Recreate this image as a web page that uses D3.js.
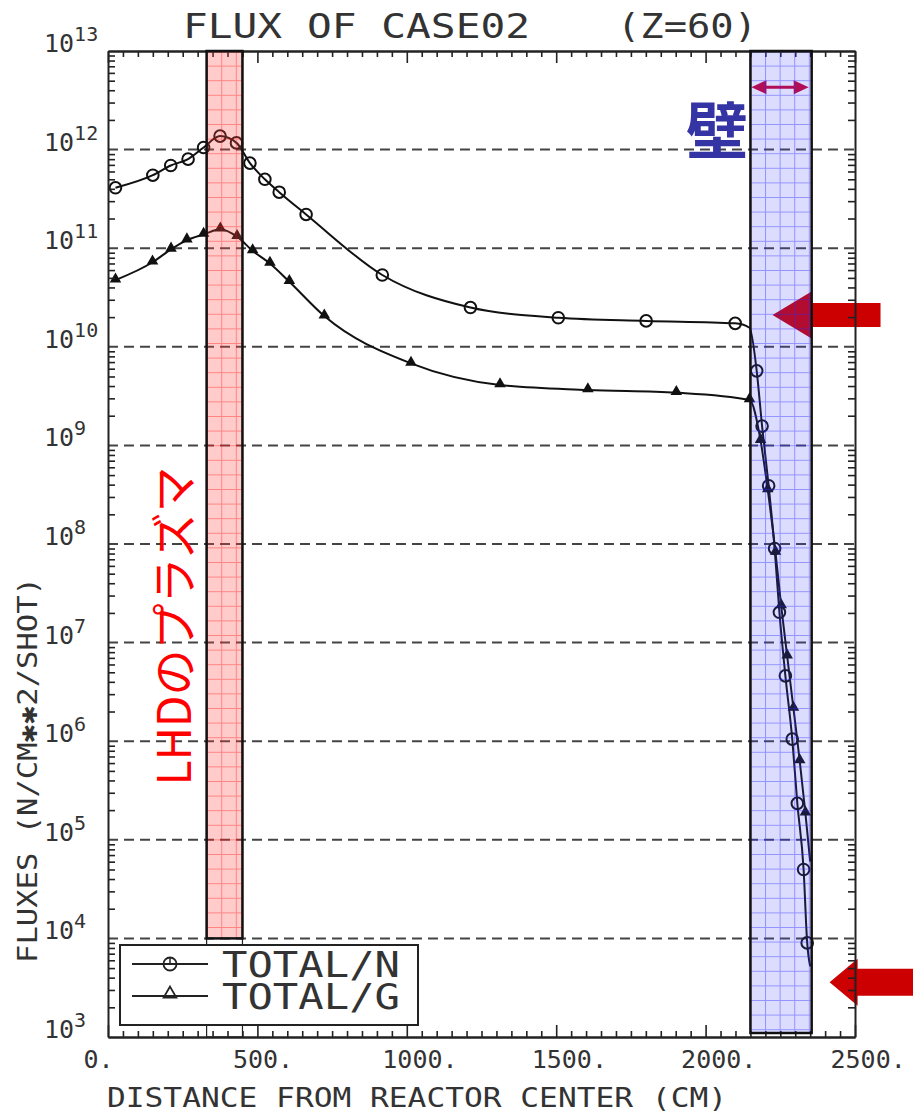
<!DOCTYPE html>
<html>
<head>
<meta charset="utf-8">
<script src="https://cdn.jsdelivr.net/npm/d3@7"></script>
<style>
  body { margin: 0; background: #fff; }
  svg { display: block; }
  text { font-family: 'DejaVu Sans Mono', monospace; fill: #333; }
</style>
</head>
<body>
<svg id="chart" width="913" height="1113"></svg>
<script>
// TOTAL/N (circles)
const distN = [25, 150, 210, 268, 320, 375, 430, 475, 525, 573, 663, 918, 1213, 1507, 1801, 2099, 2147, 2171, 2189, 2211, 2231, 2247, 2267, 2290, 2307, 2328, 2340, 2350]
const fluxN = [4.1e11, 5.5e11, 6.9e11, 8.0e11, 1.05e12, 1.37e12, 1.17e12, 7.3e11, 5.0e11, 3.7e11, 2.2e11, 5.35e10, 2.5e10, 1.97e10, 1.83e10, 1.73e10, 1.56e10, 5.7e9, 1.57e9, 3.9e8, 9.0e7, 2.03e7, 4.6e6, 1.05e6, 2.34e5, 5.0e4, 9.0e3, 5.2e3]
const plainN = [2147, 2350]

// TOTAL/G (triangles)
const distG = [25, 149, 211, 264, 320, 376, 432, 484, 542, 607, 724, 1014, 1312, 1606, 1902, 2147, 2184, 2208, 2234, 2253, 2273, 2294, 2315, 2334, 2350]
const fluxG = [4.75e10, 7.2e10, 9.75e10, 1.21e11, 1.38e11, 1.56e11, 1.31e11, 9.4e10, 7.0e10, 4.57e10, 2.05e10, 6.8e9, 4.1e9, 3.65e9, 3.43e9, 2.9e9, 1.12e9, 3.53e8, 8.2e7, 2.35e7, 7.3e6, 2.15e6, 6.3e5, 1.86e5, 6e4]
const plainG = [2350]

const xTicks = [0, 500, 1000, 1500, 2000, 2500]
const decades = [3, 4, 5, 6, 7, 8, 9, 10, 11, 12, 13]

// shaded regions and annotations
const plasmaSpan = [330, 450]
const plasmaFloor = 1e4
const wallSpan = [2150, 2355]
const spanArrowFlux = 4.3e12
const arrowDist = [2224, 2415]
const arrowFlux = [2.1e10, 3.6e3]

const legendLabels = ['TOTAL/N', 'TOTAL/G']

const width = 913
const height = 1113
const margin = { top: 51, right: 58, bottom: 76, left: 108 }

const svg = d3.select('#chart')
const defs = svg.append('defs')

const x = d3.scaleLinear().domain([0, 2500]).range([margin.left, width - margin.right])
const y = d3.scaleLog().domain([1e3, 1e13]).range([height - margin.bottom, margin.top])

const x0 = x.range()[0]
const x1 = x.range()[1]

// dashed decade lines
svg.append('g')
  .selectAll('line')
  .data(decades.slice(1, -1))
  .enter()
  .append('line')
  .attr('x1', x0)
  .attr('x2', x1)
  .attr('y1', d => y(Math.pow(10, d)))
  .attr('y2', d => y(Math.pow(10, d)))
  .attr('stroke', '#444')
  .attr('stroke-width', 2)
  .attr('stroke-dasharray', '10,6')

// big red arrows (under the wall overlay)
const arrowShape = [{ head: 39, shaft: 12, tail: 108 }, { head: 28, shaft: 13.5, tail: 90 }]
arrowDist.forEach((d, i) => {
  const tx = x(d)
  const ty = y(arrowFlux[i])
  const s = arrowShape[i]
  const hb = tx + s.head
  const pts = [
    [tx, ty], [hb, ty - 23.5], [hb, ty - s.shaft], [tx + s.tail, ty - s.shaft],
    [tx + s.tail, ty + s.shaft], [hb, ty + s.shaft], [hb, ty + 23.5]
  ]
  svg.append('polygon')
    .attr('points', pts.map(p => p.join(',')).join(' '))
    .attr('fill', '#cc0000')
})

// double arrow across the wall
const sy = y(spanArrowFlux)
const sa = x(wallSpan[0]) + 1
const sb = x(wallSpan[1]) - 3
svg.append('line')
  .attr('x1', sa + 10).attr('x2', sb - 10)
  .attr('y1', sy).attr('y2', sy)
  .attr('stroke', '#cc0030').attr('stroke-width', 3)
svg.append('polygon')
  .attr('points', `${sa},${sy} ${sa + 15},${sy - 7} ${sa + 15},${sy + 7}`)
  .attr('fill', '#cc0030')
svg.append('polygon')
  .attr('points', `${sb},${sy} ${sb - 15},${sy - 7} ${sb - 15},${sy + 7}`)
  .attr('fill', '#cc0030')

// series
const line = d3.line()
  .x(d => x(d[0]))
  .y(d => y(d[1]))
  .curve(d3.curveMonotoneX)

const seriesN = distN.map((d, i) => [d, fluxN[i]])
const seriesG = distG.map((d, i) => [d, fluxG[i]])

svg.append('path')
  .datum(seriesN)
  .attr('d', line)
  .attr('fill', 'none')
  .attr('stroke', '#111')
  .attr('stroke-width', 2)

svg.append('path')
  .datum(seriesG)
  .attr('d', line)
  .attr('fill', 'none')
  .attr('stroke', '#111')
  .attr('stroke-width', 2)

svg.append('g')
  .selectAll('circle')
  .data(seriesN.filter(d => !plainN.includes(d[0])))
  .enter()
  .append('circle')
  .attr('cx', d => x(d[0]))
  .attr('cy', d => y(d[1]))
  .attr('r', 5.8)
  .attr('fill', 'none')
  .attr('stroke', '#111')
  .attr('stroke-width', 2)

const tri = d3.symbol().type(d3.symbolTriangle).size(58)
svg.append('g')
  .selectAll('path')
  .data(seriesG.filter(d => !plainG.includes(d[0])))
  .enter()
  .append('path')
  .attr('d', tri)
  .attr('transform', d => `translate(${x(d[0])},${y(d[1]) - 1})`)
  .attr('fill', '#111')

// axes
const minorX = d3.range(0, 2501, 50).filter(d => d % 500 !== 0)
const minorY = []
decades.slice(0, -1).forEach(k => {
  for (let m = 2; m <= 9; m++) minorY.push(m * Math.pow(10, k))
})

function styleAxis(g) {
  g.selectAll('path.domain').attr('stroke', '#222').attr('stroke-width', 2)
  g.selectAll('.tick line').attr('stroke', '#222').attr('stroke-width', 1.6)
}

const yBottom = y.range()[0]
const yTop = y.range()[1]

svg.append('g').attr('transform', `translate(0,${yBottom})`)
  .call(d3.axisBottom(x).tickValues(minorX).tickSize(-6).tickSizeOuter(0).tickFormat(''))
  .call(styleAxis)
svg.append('g').attr('transform', `translate(0,${yTop})`)
  .call(d3.axisTop(x).tickValues(minorX).tickSize(-6).tickSizeOuter(0).tickFormat(''))
  .call(styleAxis)
svg.append('g').attr('transform', `translate(0,${yTop})`)
  .call(d3.axisTop(x).tickValues(xTicks).tickSize(-12).tickSizeOuter(0).tickFormat(''))
  .call(styleAxis)
svg.append('g').attr('transform', `translate(${x0},0)`)
  .call(d3.axisLeft(y).tickValues(minorY).tickSize(-7).tickSizeOuter(0).tickFormat(''))
  .call(styleAxis)
svg.append('g').attr('transform', `translate(${x1},0)`)
  .call(d3.axisRight(y).tickValues(minorY).tickSize(-7).tickSizeOuter(0).tickFormat(''))
  .call(styleAxis)

const xAxis = svg.append('g').attr('transform', `translate(0,${yBottom})`)
  .call(d3.axisBottom(x).tickValues(xTicks).tickSize(-12).tickSizeOuter(0).tickPadding(13).tickFormat(d => d + '.'))
  .call(styleAxis)
xAxis.selectAll('text')
  .attr('text-anchor', 'start')
  .attr('dx', -25)
  .style('font-family', "'DejaVu Sans Mono', monospace")
  .style('font-size', '25px')
  .attr('fill', '#333')

// shaded overlays
function gridPattern(id, color, ox, oy) {
  const p = defs.append('pattern')
    .attr('id', id)
    .attr('patternUnits', 'userSpaceOnUse')
    .attr('x', ox).attr('y', oy)
    .attr('width', 14.6).attr('height', 14.6)
  p.append('path')
    .attr('d', 'M0,0.5H14.6M0.5,0V14.6')
    .attr('stroke', color)
    .attr('stroke-width', 1)
}

const px0 = x(plasmaSpan[0])
const px1 = x(plasmaSpan[1])
const pyB = y(plasmaFloor)
gridPattern('gridPink', 'rgba(255,0,0,0.35)', px0, yTop)
svg.append('rect')
  .attr('x', px0).attr('y', yTop).attr('width', px1 - px0).attr('height', pyB - yTop)
  .attr('fill', 'rgba(255,70,70,0.28)')
svg.append('rect')
  .attr('x', px0).attr('y', yTop).attr('width', px1 - px0).attr('height', pyB - yTop)
  .attr('fill', 'url(#gridPink)')
// thin outline continues down behind the legend
svg.append('rect')
  .attr('x', px0).attr('y', yTop).attr('width', px1 - px0).attr('height', yBottom - yTop)
  .attr('fill', 'none').attr('stroke', '#222').attr('stroke-width', 1.2)
svg.append('rect')
  .attr('x', px0).attr('y', yTop).attr('width', px1 - px0).attr('height', pyB - yTop)
  .attr('fill', 'none').attr('stroke', '#111').attr('stroke-width', 2.5)

const wx0 = x(wallSpan[0])
const wx1 = x(wallSpan[1])
const wyB = yBottom - 4
gridPattern('gridBlue', 'rgba(40,40,255,0.4)', wx0, yTop)
svg.append('rect')
  .attr('x', wx0).attr('y', yTop).attr('width', wx1 - wx0).attr('height', wyB - yTop)
  .attr('fill', 'rgba(70,70,255,0.19)')
svg.append('rect')
  .attr('x', wx0).attr('y', yTop).attr('width', wx1 - wx0).attr('height', wyB - yTop)
  .attr('fill', 'url(#gridBlue)')
svg.append('rect')
  .attr('x', wx0).attr('y', yTop).attr('width', wx1 - wx0).attr('height', wyB - yTop)
  .attr('fill', 'none').attr('stroke', '#111').attr('stroke-width', 2.5)

// legend
const legend = svg.append('g')
legend.append('rect')
  .attr('x', 120).attr('y', 945).attr('width', 298).attr('height', 80)
  .attr('fill', '#fff').attr('stroke', '#222').attr('stroke-width', 2)

legendLabels.forEach((label, i) => {
  const ly = 964 + i * 32
  legend.append('line')
    .attr('x1', 132).attr('x2', 208).attr('y1', ly).attr('y2', ly)
    .attr('stroke', '#222').attr('stroke-width', 1.8)
  if (i === 0) {
    legend.append('circle').attr('cx', 170).attr('cy', ly).attr('r', 6.5)
      .attr('fill', 'none').attr('stroke', '#222').attr('stroke-width', 1.8)
    legend.append('line').attr('x1', 170).attr('x2', 170).attr('y1', ly - 6.5).attr('y2', ly)
      .attr('stroke', '#222').attr('stroke-width', 1.5)
  } else {
    legend.append('path').attr('d', d3.symbol().type(d3.symbolTriangle).size(70))
      .attr('transform', `translate(170,${ly - 2})`)
      .attr('fill', 'none').attr('stroke', '#222').attr('stroke-width', 1.8)
  }
  legend.append('text')
    .attr('x', 222).attr('y', ly + 13)
    .attr('textLength', 178).attr('lengthAdjust', 'spacingAndGlyphs')
    .style('font-size', '35px')
    .text(label)
})

// y tick labels with superscripts
const yLabels = svg.append('g')
decades.forEach(k => {
  const t = yLabels.append('text')
    .attr('x', 44)
    .attr('y', y(Math.pow(10, k)) + 1)
    .style('font-size', '25px')
  t.append('tspan').text('10')
  t.append('tspan').attr('dy', -11).style('font-size', '20px').text(k)
})

// titles
svg.append('text')
  .attr('x', 183).attr('y', 38)
  .attr('textLength', 347).attr('lengthAdjust', 'spacingAndGlyphs')
  .style('font-size', '34px')
  .text('FLUX OF CASE02')
svg.append('text')
  .attr('x', 617).attr('y', 38)
  .attr('textLength', 140).attr('lengthAdjust', 'spacingAndGlyphs')
  .style('font-size', '34px')
  .text('(Z=60)')

svg.append('text')
  .attr('x', 107).attr('y', 1107)
  .attr('textLength', 620).attr('lengthAdjust', 'spacingAndGlyphs')
  .style('font-size', '26px')
  .text('DISTANCE FROM REACTOR CENTER (CM)')

svg.append('text')
  .attr('transform', 'translate(37,770) rotate(-90)')
  .attr('text-anchor', 'middle')
  .attr('textLength', 386).attr('lengthAdjust', 'spacingAndGlyphs')
  .style('font-size', '26px')
  .text('FLUXES (N/CM\u2731\u27312/SHOT)')

// Japanese annotations
svg.append('text')
  .attr('x', 717).attr('y', 154)
  .attr('text-anchor', 'middle')
  .style('font-family', "'Noto Sans CJK JP', sans-serif")
  .style('font-weight', 700)
  .style('font-size', '62px')
  .style('fill', '#3434a4')
  .text('壁')

svg.append('text')
  .attr('transform', 'translate(171,626) rotate(-90)')
  .attr('text-anchor', 'middle')
  .attr('dominant-baseline', 'central')
  .style('font-family', "'Noto Sans CJK JP', sans-serif")
  .style('font-size', '46px')
  .style('fill', '#ff0000')
  .text('LHDのプラズマ')
</script>
</body>
</html>
